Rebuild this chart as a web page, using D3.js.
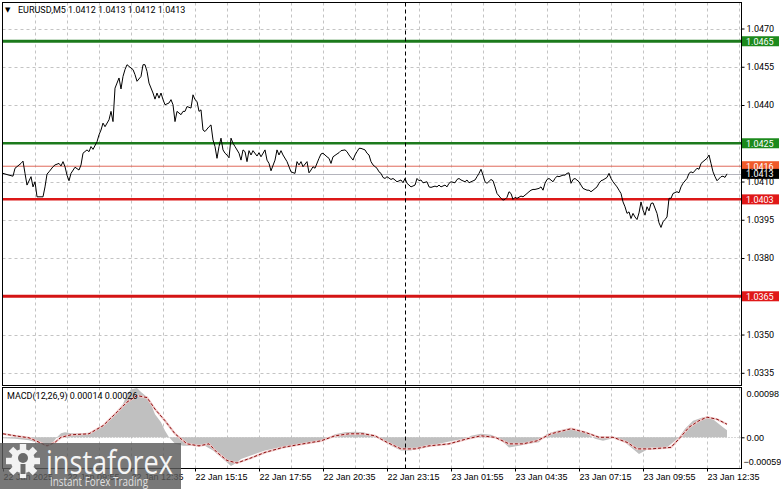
<!DOCTYPE html>
<html><head><meta charset="utf-8">
<script src="https://d3js.org/d3.v7.min.js"></script>
<style>
html,body{margin:0;padding:0;background:#fff;}
svg{display:block;font-family:Roboto,"Liberation Sans",sans-serif;}
</style></head><body>
<svg id="chart" width="781" height="489"></svg>
<script>
// ---------------- DATA ----------------
const symbolName = "EURUSD,M5";
const lastOHLC = [1.0412, 1.0413, 1.0412, 1.0413];
const timeLabels = ["22 Jan 2025","22 Jan 09:55","22 Jan 12:35","22 Jan 15:15","22 Jan 17:55","22 Jan 20:35","22 Jan 23:15","23 Jan 01:55","23 Jan 04:35","23 Jan 07:15","23 Jan 09:55","23 Jan 12:35"];
const timeLabelBars = [0,32,64,96,128,160,192,224,256,288,320,352];
const priceTicks = [1.0470,1.0455,1.0440,1.0425,1.0410,1.0395,1.0380,1.0365,1.0350,1.0335];
const levelValues = [1.0465,1.0425,1.0416,1.0403,1.0365];
const bidPrice = 1.0413;
const daySeparatorBar = 201;
// [bar index (5-min bars from 22 Jan 07:15), close]
const closeSeries = [[0,1.04132],[3,1.04125],[5,1.04121],[6,1.04152],[9,1.04171],[10,1.04180],[11,1.04132],[12,1.04086],[14,1.04119],[15,1.04079],[16,1.04099],[17,1.04040],[18,1.04040],[20,1.04040],[21,1.04079],[22,1.04129],[23,1.04138],[25,1.04158],[26,1.04165],[28,1.04171],[29,1.04161],[30,1.04178],[31,1.04158],[32,1.04125],[33,1.04103],[34,1.04132],[36,1.04156],[38,1.04145],[39,1.04165],[40,1.04211],[42,1.04224],[43,1.04217],[44,1.04237],[45,1.04226],[47,1.04256],[48,1.04283],[49,1.04302],[50,1.04329],[51,1.04315],[53,1.04342],[54,1.04375],[55,1.04335],[56,1.04466],[57,1.04486],[58,1.04506],[59,1.04463],[60,1.04512],[61,1.04539],[62,1.04558],[64,1.04545],[65,1.04539],[66,1.04519],[67,1.04493],[69,1.04512],[70,1.04558],[71,1.04558],[72,1.04532],[73,1.04486],[75,1.04447],[76,1.04423],[77,1.04447],[78,1.04427],[79,1.04447],[80,1.04421],[81,1.04401],[83,1.04408],[84,1.04421],[85,1.04401],[86,1.04335],[87,1.04375],[89,1.04362],[90,1.04375],[91,1.04375],[92,1.04394],[94,1.04388],[95,1.04440],[96,1.04421],[97,1.04414],[98,1.04375],[99,1.04381],[100,1.04302],[101,1.04296],[103,1.04315],[104,1.04322],[105,1.04263],[106,1.04237],[107,1.04191],[108,1.04237],[109,1.04270],[110,1.04224],[111,1.04211],[112,1.04204],[113,1.04193],[114,1.04270],[115,1.04250],[116,1.04237],[118,1.04211],[119,1.04184],[120,1.04224],[121,1.04217],[122,1.04178],[123,1.04221],[124,1.04204],[125,1.04221],[127,1.04200],[128,1.04213],[129,1.04197],[131,1.04224],[132,1.04184],[133,1.04171],[134,1.04142],[136,1.04184],[137,1.04224],[138,1.04204],[139,1.04221],[140,1.04204],[142,1.04178],[143,1.04158],[144,1.04138],[146,1.04132],[147,1.04178],[148,1.04165],[149,1.04178],[150,1.04158],[152,1.04178],[153,1.04134],[154,1.04145],[155,1.04158],[156,1.04152],[158,1.04191],[159,1.04208],[160,1.04211],[162,1.04197],[163,1.04191],[164,1.04171],[165,1.04197],[167,1.04208],[168,1.04213],[169,1.04221],[171,1.04224],[172,1.04217],[173,1.04204],[175,1.04184],[176,1.04204],[177,1.04217],[178,1.04230],[179,1.04230],[181,1.04224],[182,1.04211],[183,1.04204],[184,1.04178],[185,1.04165],[187,1.04152],[188,1.04138],[189,1.04132],[190,1.04116],[191,1.04112],[192,1.04119],[194,1.04108],[195,1.04112],[196,1.04106],[197,1.04099],[199,1.04106],[200,1.04095],[201,1.04112],[202,1.04093],[203,1.04086],[204,1.04079],[206,1.04086],[207,1.04112],[208,1.04103],[209,1.04106],[210,1.04095],[212,1.04099],[213,1.04079],[214,1.04077],[216,1.04082],[217,1.04079],[218,1.04086],[219,1.04079],[221,1.04086],[222,1.04079],[223,1.04093],[224,1.04099],[226,1.04095],[227,1.04108],[228,1.04112],[229,1.04106],[231,1.04099],[232,1.04106],[233,1.04095],[234,1.04099],[236,1.04106],[237,1.04119],[238,1.04132],[239,1.04148],[240,1.04125],[241,1.04099],[242,1.04093],[244,1.04108],[245,1.04103],[246,1.04079],[247,1.04053],[249,1.04034],[250,1.04027],[251,1.04030],[252,1.04038],[253,1.04060],[254,1.04053],[255,1.04030],[256,1.04038],[257,1.04034],[259,1.04043],[260,1.04040],[262,1.04053],[263,1.04060],[264,1.04066],[265,1.04069],[266,1.04069],[268,1.04073],[269,1.04079],[270,1.04066],[271,1.04093],[272,1.04108],[273,1.04112],[275,1.04099],[276,1.04112],[277,1.04121],[278,1.04119],[280,1.04125],[281,1.04125],[282,1.04132],[283,1.04134],[284,1.04093],[285,1.04108],[286,1.04112],[288,1.04099],[289,1.04086],[290,1.04073],[292,1.04066],[293,1.04066],[294,1.04060],[295,1.04066],[297,1.04079],[298,1.04093],[299,1.04103],[300,1.04106],[302,1.04116],[303,1.04132],[304,1.04112],[305,1.04099],[307,1.04079],[308,1.04066],[309,1.04053],[310,1.04020],[311,1.04001],[312,1.03975],[313,1.03981],[314,1.03955],[315,1.03975],[316,1.03961],[317,1.03951],[318,1.03977],[319,1.04020],[320,1.03988],[321,1.03968],[322,1.04001],[323,1.03985],[324,1.04014],[325,1.04016],[327,1.03975],[328,1.03938],[329,1.03920],[330,1.03942],[331,1.03951],[332,1.03961],[333,1.04034],[334,1.04034],[335,1.04053],[337,1.04060],[338,1.04056],[339,1.04079],[340,1.04093],[342,1.04112],[343,1.04132],[344,1.04138],[345,1.04134],[347,1.04152],[348,1.04148],[349,1.04171],[350,1.04178],[352,1.04191],[353,1.04204],[354,1.04171],[355,1.04138],[356,1.04119],[357,1.04103],[359,1.04119],[360,1.04121],[361,1.04116],[362,1.04130]];
const macdTitle = "MACD(12,26,9)";
const macdLast = 0.00014, signalLast = 0.00026;
const macdTicks = [0.00098, 0.00, -0.00059];
// [bar index, MACD histogram value]
const macdSeries = [[0,-0.00002],[6,-0.00003],[13,-0.00006],[18,-0.00012],[22,-0.00016],[25,-0.00010],[27,0],[29,0.00008],[31,0.00010],[34,0.00008],[38,0.00008],[43,0.00009],[48,0.00018],[51,0.00026],[53,0.00033],[55,0.00040],[57,0.00053],[60,0.00066],[62,0.00086],[64,0.00095],[67,0.00098],[69,0.00090],[72,0.00080],[74,0.00066],[76,0.00046],[79,0.00030],[81,0.00013],[83,0],[86,-0.00013],[90,-0.00017],[96,-0.00017],[100,-0.00015],[105,-0.00026],[110,-0.00043],[112,-0.00050],[114,-0.00057],[117,-0.00050],[119,-0.00043],[126,-0.00033],[131,-0.00026],[138,-0.00020],[145,-0.00016],[152,-0.00013],[159,-0.00007],[163,0],[166,0.00006],[171,0.00010],[176,0.00011],[180,0.00010],[185,0.00005],[187,0],[190,-0.00007],[194,-0.00017],[199,-0.00026],[204,-0.00026],[211,-0.00017],[218,-0.00013],[225,-0.00007],[232,-0.00002],[234,0.00003],[239,0.00007],[244,0.00005],[247,0],[251,-0.00013],[253,-0.00020],[258,-0.00017],[263,-0.00013],[268,-0.00010],[270,0],[272,0.00007],[277,0.00013],[282,0.00017],[284,0.00018],[286,0.00017],[291,0.00010],[293,0.00005],[296,-0.00003],[300,-0.00007],[304,-0.00003],[305,0],[310,-0.00007],[315,-0.00023],[318,-0.00033],[324,-0.00020],[331,-0.00023],[336,-0.00007],[338,0],[341,0.00017],[345,0.00033],[350,0.00040],[355,0.00036],[360,0.00020],[362,0.00014]];
// [bar index, signal value]
const signalSeries = [[0,0.00007],[6,0.00003],[13,-0.00001],[17,-0.00008],[22,-0.00017],[26,-0.00010],[29,0],[34,0.00005],[43,0.00007],[50,0.00023],[57,0.00050],[62,0.00070],[67,0.00083],[72,0.00079],[76,0.00056],[81,0.00033],[86,0.00007],[92,-0.00013],[98,-0.00017],[103,-0.00013],[107,-0.00030],[112,-0.00046],[117,-0.00051],[124,-0.00041],[131,-0.00030],[140,-0.00020],[150,-0.00013],[159,-0.00007],[166,0.00003],[173,0.00007],[180,0.00007],[186,0.00003],[192,-0.00010],[199,-0.00023],[206,-0.00023],[213,-0.00017],[223,-0.00013],[232,-0.00003],[239,0.00003],[246,0],[253,-0.00013],[260,-0.00013],[267,-0.00007],[274,0.00007],[284,0.00017],[291,0.00010],[298,0],[305,0],[312,-0.00010],[317,-0.00023],[324,-0.00023],[334,-0.00020],[338,-0.00003],[343,0.00020],[348,0.00033],[352,0.00040],[357,0.00036],[362,0.00026]];

// ---------------- STYLE / LAYOUT ----------------
const levelStyle = [
  {stroke:"#1c7a1c", width:3, tag:"#1c8a1c"},
  {stroke:"#1c7a1c", width:2.5, tag:"#1c8a1c"},
  {stroke:"#e06a5a", width:1, tag:"#f05a2a"},
  {stroke:"#dc1818", width:2.5, tag:"#e01818"},
  {stroke:"#d41414", width:3, tag:"#e01818"}
];
const FS = 9;
const L = 2.5, R = 741.5, T = 2.5, MB = 385.5, MT = 387.5, B = 468.5;

const svg = d3.select("#chart");
svg.append("rect").attr("width",781).attr("height",489).attr("fill","#fff");

const x = d3.scaleLinear().domain([0,369]).range([3,741]);
const y = d3.scaleLinear().domain([1.0335,1.0470]).range([372.8,28.5]);
const ym = d3.scaleLinear().domain([-0.00059,0.00098]).range([467,388]);

const defs = svg.append("defs");
defs.append("clipPath").attr("id","clipMain").append("rect")
  .attr("x",L).attr("y",T).attr("width",R-L).attr("height",MB-T);
defs.append("clipPath").attr("id","clipMacd").append("rect")
  .attr("x",L).attr("y",MT).attr("width",R-L).attr("height",B-MT);

const snap = v => Math.round(v) + 0.5;

// ---- main panel ----
const gMain = svg.append("g").attr("clip-path","url(#clipMain)");
gMain.selectAll("line.hg").data(priceTicks).join("line")
  .attr("x1",L).attr("x2",R)
  .attr("y1",d=>snap(y(d))).attr("y2",d=>snap(y(d)))
  .attr("stroke","#c4c4c4").attr("stroke-dasharray","3,3");
const gridBars = d3.range(16, 369, 16);
gMain.selectAll("line.vg").data(gridBars).join("line")
  .attr("x1",d=>snap(x(d))).attr("x2",d=>snap(x(d)))
  .attr("y1",T).attr("y2",MB)
  .attr("stroke","#c4c4c4").attr("stroke-dasharray","3,3");

// bid line
gMain.append("line").attr("x1",L).attr("x2",R)
  .attr("y1",snap(y(bidPrice))).attr("y2",snap(y(bidPrice)))
  .attr("stroke","#b4b4bc").attr("stroke-width",1);

// level lines
gMain.selectAll("line.lvl").data(levelValues).join("line")
  .attr("x1",L).attr("x2",R)
  .attr("y1",d=>y(d)).attr("y2",d=>y(d))
  .attr("stroke",(d,i)=>levelStyle[i].stroke)
  .attr("stroke-width",(d,i)=>levelStyle[i].width);

// price line
gMain.append("path").datum(closeSeries)
  .attr("d", d3.line().x(d=>x(d[0])).y(d=>y(d[1])))
  .attr("fill","none").attr("stroke","#000").attr("stroke-width",1);

// ---- macd panel ----
const gM = svg.append("g").attr("clip-path","url(#clipMacd)");
gM.selectAll("line.vg").data(gridBars).join("line")
  .attr("x1",d=>snap(x(d))).attr("x2",d=>snap(x(d)))
  .attr("y1",MT).attr("y2",B)
  .attr("stroke","#c4c4c4").attr("stroke-dasharray","3,3");
gM.append("line").attr("x1",L).attr("x2",R)
  .attr("y1",snap(ym(0))).attr("y2",snap(ym(0)))
  .attr("stroke","#b0b0b0").attr("stroke-dasharray","1,2");
gM.append("path").datum(macdSeries)
  .attr("d", d3.area().x(d=>x(d[0])).y0(ym(0)).y1(d=>ym(d[1])))
  .attr("fill","#c0c0c0");
gM.append("path").datum(signalSeries)
  .attr("d", d3.line().x(d=>x(d[0])).y(d=>ym(d[1])))
  .attr("fill","none").attr("stroke","#f0c8c8").attr("stroke-width",2.2);
gM.append("path").datum(signalSeries)
  .attr("d", d3.line().x(d=>x(d[0])).y(d=>ym(d[1])))
  .attr("fill","none").attr("stroke","#8a1010").attr("stroke-width",1)
  .attr("stroke-dasharray","3,2");

// day separator
svg.append("line").attr("x1",snap(x(daySeparatorBar))).attr("x2",snap(x(daySeparatorBar)))
  .attr("y1",T).attr("y2",B).attr("stroke","#000").attr("stroke-dasharray","4,3");

// panel borders
svg.append("rect").attr("x",L).attr("y",T).attr("width",R-L).attr("height",MB-T)
  .attr("fill","none").attr("stroke","#000");
svg.append("rect").attr("x",L).attr("y",MT).attr("width",R-L).attr("height",B-MT)
  .attr("fill","none").attr("stroke","#000");

// ---- right price axis ----
const ax = svg.append("g").attr("transform",`translate(${R},0)`)
  .call(d3.axisRight(y).tickValues(priceTicks).tickSize(3).tickPadding(2).tickFormat(d3.format(".4f")));
ax.select(".domain").remove();
ax.selectAll("text").attr("font-size",FS).attr("fill","#000").attr("font-family","Roboto,sans-serif");
ax.selectAll("line").attr("stroke","#000");

// level tags
const tags = svg.append("g");
const tagData = levelValues.map((v,i)=>({v, c: levelStyle[i].tag, dark:false}));
tagData.push({v: bidPrice, c:"#000", dark:true});
tagData.sort((a,b)=> (a.dark?1:0) - (b.dark?1:0));
tags.selectAll("rect").data(tagData).join("rect")
  .attr("x",R+0.5).attr("y",d=>y(d.v)-5).attr("width",37).attr("height",10)
  .attr("fill",d=>d.c);
tags.selectAll("text").data(tagData).join("text")
  .attr("x",R+4.5).attr("y",d=>y(d.v)+3.3)
  .attr("font-size",FS).attr("fill","#fff")
  .text(d=>d3.format(".4f")(d.v));

// ---- right macd axis ----
const am = svg.append("g").attr("transform",`translate(${R},0)`)
  .call(d3.axisRight(ym).tickValues(macdTicks).tickSize(3).tickPadding(2)
    .tickFormat(d => d === 0 ? "0.00" : d3.format(".5f")(d)));
am.select(".domain").remove();
am.selectAll("line").attr("stroke","#000");
am.selectAll(".tick").each(function(d){
  const t = d3.select(this).select("text");
  t.attr("font-size",FS).attr("fill","#000");
  if (d > 0) t.attr("dy","0.95em");
  if (d < 0) { t.attr("dy","-0.3em").attr("x",2); d3.select(this).select("line").remove(); }
  if (d > 0) d3.select(this).select("line").remove();
});

// ---- bottom time axis ----
const at = svg.append("g").attr("transform",`translate(0,${B})`)
  .call(d3.axisBottom(x).tickValues(timeLabelBars).tickSize(3).tickPadding(2)
    .tickFormat((d,i)=>timeLabels[i]));
at.select(".domain").remove();
at.selectAll("line").attr("stroke","#000");
at.selectAll("text").attr("font-size",FS).attr("fill","#000")
  .attr("text-anchor","start").attr("x",0);

// ---- header texts ----
svg.append("text").attr("x",5).attr("y",12).attr("font-size",7)
  .attr("font-family","DejaVu Sans").text("▼");
svg.append("text").attr("x",18).attr("y",13).attr("font-size",FS)
  .text(`${symbolName}  ${lastOHLC.map(d3.format(".4f")).join(" ")}`);
svg.append("text").attr("x",7).attr("y",399).attr("font-size",FS)
  .text(`${macdTitle} ${d3.format(".5f")(macdLast)} ${d3.format(".5f")(signalLast)}`);

// ---- watermark logo ----
const logo = svg.append("g");
logo.append("rect").attr("x",0).attr("y",443).attr("width",181).attr("height",46)
  .attr("fill","#5a5a5a").attr("opacity",0.82);
const gear = logo.append("g").attr("transform","translate(23,461)");
gear.selectAll("rect").data(d3.range(8)).join("rect")
  .attr("x",-3.2).attr("y",-17).attr("width",6.4).attr("height",8)
  .attr("fill","#f2f2f2").attr("transform",d=>`rotate(${d*45})`);
gear.append("circle").attr("r",12).attr("fill","#f2f2f2");
gear.append("circle").attr("r",5).attr("cx",0).attr("cy",-3).attr("fill","#6a6a6a");
gear.append("rect").attr("x",-2.5).attr("y",3).attr("width",5).attr("height",10).attr("fill","#6a6a6a");
logo.append("text").attr("x",46).attr("y",474).attr("font-size",32)
  .attr("font-family","'Open Sans',sans-serif").attr("font-weight",400)
  .attr("fill","#f4f4f4").attr("textLength",127).attr("lengthAdjust","spacingAndGlyphs")
  .text("instaforex");
logo.append("text").attr("x",50).attr("y",486).attr("font-size",12)
  .attr("font-family","'Open Sans',sans-serif")
  .attr("fill","#e0e0e0").attr("textLength",98).attr("lengthAdjust","spacingAndGlyphs")
  .text("Instant Forex Trading");
</script>
</body></html>
